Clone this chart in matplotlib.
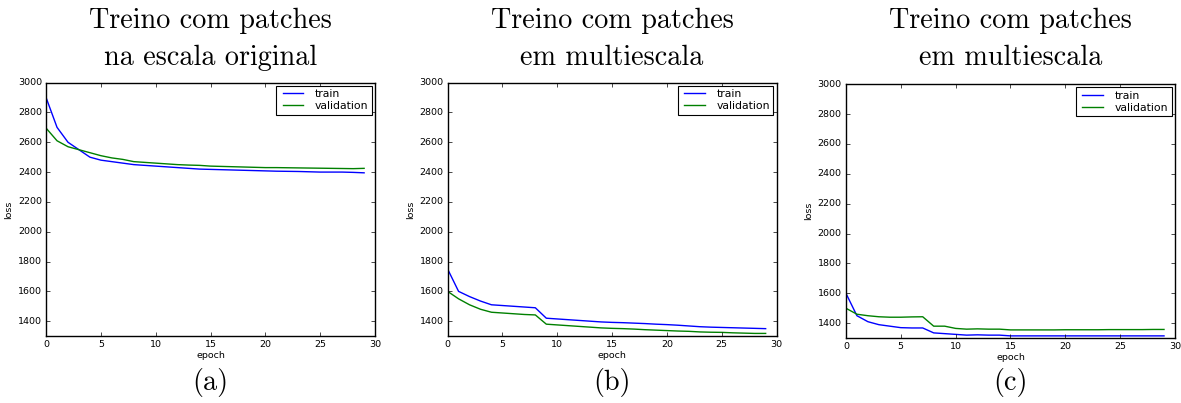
import matplotlib
matplotlib.use("Agg")
import matplotlib.pyplot as plt

plt.style.use("classic")

epochs = list(range(30))

train_a = [2900, 2700, 2600, 2550, 2500, 2480, 2470, 2460, 2450, 2445,
           2440, 2435, 2430, 2425, 2420, 2418, 2416, 2414, 2412, 2410,
           2408, 2406, 2405, 2404, 2402, 2400, 2400, 2400, 2398, 2395]
val_a = [2695, 2610, 2570, 2550, 2530, 2510, 2495, 2485, 2470, 2465,
         2460, 2455, 2450, 2447, 2445, 2440, 2438, 2436, 2434, 2432,
         2430, 2430, 2429, 2428, 2427, 2426, 2425, 2424, 2423, 2425]

train_b = [1750, 1600, 1565, 1535, 1510, 1505, 1500, 1495, 1490, 1420,
           1415, 1410, 1405, 1400, 1395, 1392, 1390, 1387, 1384, 1380,
           1377, 1373, 1368, 1363, 1360, 1358, 1356, 1354, 1352, 1350]
val_b = [1600, 1550, 1510, 1480, 1460, 1455, 1450, 1445, 1442, 1380,
         1375, 1370, 1365, 1360, 1355, 1352, 1350, 1347, 1343, 1340,
         1337, 1334, 1332, 1328, 1326, 1325, 1322, 1320, 1318, 1318]

train_c = [1600, 1450, 1410, 1390, 1380, 1370, 1368, 1368, 1335, 1330,
           1325, 1320, 1322, 1320, 1320, 1315, 1315, 1315, 1315, 1315,
           1315, 1315, 1315, 1315, 1315, 1315, 1315, 1315, 1315, 1315]
val_c = [1500, 1460, 1450, 1443, 1440, 1440, 1442, 1443, 1380, 1380,
         1365, 1360, 1362, 1360, 1360, 1355, 1355, 1355, 1355, 1355,
         1356, 1356, 1356, 1356, 1357, 1357, 1357, 1357, 1358, 1358]

titles = ["Treino com patches\nna escala original",
          "Treino com patches\nem multiescala",
          "Treino com patches\nem multiescala"]
letters = ["(a)", "(b)", "(c)"]
series = [(train_a, val_a), (train_b, val_b), (train_c, val_c)]

fig = plt.figure(figsize=(11.81, 4.03), dpi=100, facecolor="white")

# axes boxes in figure fractions (left, bottom, width, height)
boxes = [(0.039, 0.166, 0.2786, 0.629),
         (0.379, 0.166, 0.2786, 0.629),
         (0.7163, 0.161, 0.2786, 0.630)]

for box, (tr, va), title, letter in zip(boxes, series, titles, letters):
    ax = fig.add_axes(box)
    ax.set_facecolor("white")
    ax.plot(epochs, tr, color="b", linewidth=1.0, label="train")
    ax.plot(epochs, va, color="g", linewidth=1.0, label="validation")
    ax.set_xlim(0, 30)
    ax.set_ylim(1300, 3000)
    ax.set_yticks(range(1400, 3001, 200))
    ax.tick_params(labelsize=6.8, length=3, pad=3)
    ax.set_xlabel("epoch", fontsize=6.8, labelpad=1)
    ax.set_ylabel("loss", fontsize=6.8, labelpad=3)
    leg = ax.legend(loc="upper right", fontsize=7.8, frameon=True,
                    fancybox=False, borderpad=0.3, handlelength=2.5,
                    labelspacing=0.2, borderaxespad=0.3)
    leg.get_frame().set_linewidth(0.8)

    cx = box[0] + box[2] / 2
    fig.text(cx, 0.982, title, ha="center", va="top", fontsize=20.3,
             family="cmr10", linespacing=1.55)
    fig.text(cx, 0.05, letter, ha="center", va="center", fontsize=20.3,
             family="cmr10")

fig.savefig("out.png", dpi=100, facecolor="white")
